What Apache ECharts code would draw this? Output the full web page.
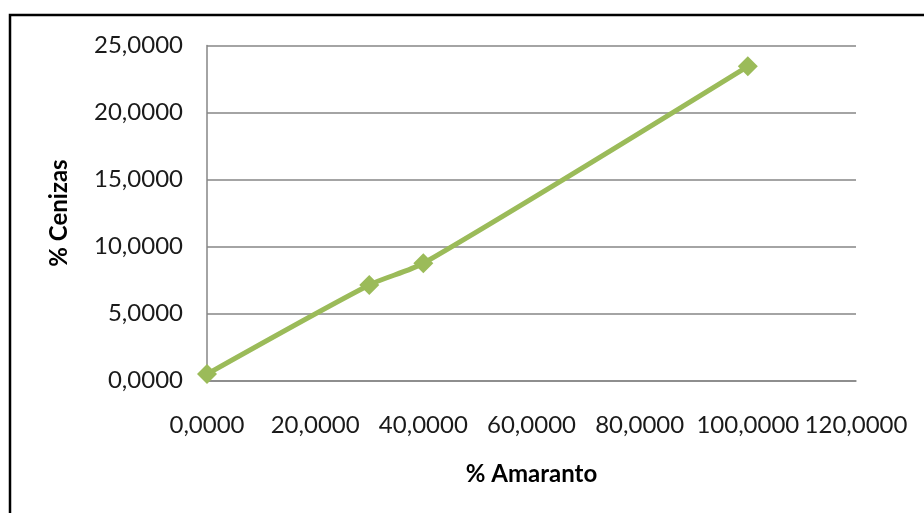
<!DOCTYPE html>
<html>
<head>
<meta charset="utf-8">
<script src="https://cdn.jsdelivr.net/npm/echarts@6/dist/echarts.min.js"></script>
<style>
  html, body { margin: 0; padding: 0; background: #ffffff; }
  #chart { width: 924px; height: 513px; }
</style>
</head>
<body>
<div id="chart"></div>
<script>
// Ash content (% Cenizas) against amaranth share (% Amaranto)
const amaranto = [0, 30, 40, 100];
const cenizas = [0.48, 7.13, 8.75, 23.45];
const xTicks = [0, 20, 40, 60, 80, 100, 120];
const yTicks = [0, 5, 10, 15, 20, 25];

const fmt = v => v.toFixed(4).replace('.', ',');
const FONT = 'Lato';

const chart = echarts.init(document.getElementById('chart'), null, { renderer: 'canvas' });

chart.setOption({
  backgroundColor: '#ffffff',
  animation: false,
  graphic: [{
    type: 'rect',
    shape: { x: 10, y: 15, width: 1200, height: 1200 },
    style: { fill: 'none', stroke: '#000000', lineWidth: 2.5 },
    silent: true,
    z: 100
  }],
  grid: { left: 207, right: 68, top: 45.5, bottom: 132.5, containLabel: false },
  xAxis: {
    type: 'value',
    min: xTicks[0],
    max: xTicks[xTicks.length - 1],
    interval: xTicks[1] - xTicks[0],
    name: '% Amaranto',
    nameLocation: 'middle',
    nameGap: 82,
    nameTextStyle: { fontFamily: FONT, fontSize: 24, fontWeight: 'bold', color: '#000000' },
    axisLine: { show: true, lineStyle: { color: '#868686', width: 1.5 } },
    axisTick: { show: false },
    splitLine: { show: false },
    axisLabel: {
      formatter: v => fmt(v),
      fontFamily: FONT, fontSize: 24, color: '#1a1a1a', margin: 33
    }
  },
  yAxis: {
    type: 'value',
    min: yTicks[0],
    max: yTicks[yTicks.length - 1],
    interval: yTicks[1] - yTicks[0],
    name: '% Cenizas',
    nameLocation: 'middle',
    nameGap: 136,
    nameTextStyle: { fontFamily: FONT, fontSize: 24, fontWeight: 'bold', color: '#000000' },
    axisLine: { show: true, lineStyle: { color: '#868686', width: 1.5 } },
    axisTick: { show: false },
    splitLine: { show: true, lineStyle: { color: '#868686', width: 1.5 } },
    axisLabel: {
      formatter: v => fmt(v),
      fontFamily: FONT, fontSize: 24, color: '#1a1a1a', margin: 24
    }
  },
  series: [{
    type: 'line',
    data: amaranto.map((x, i) => [x, cenizas[i]]),
    smooth: 0.25,
    symbol: 'diamond',
    symbolSize: 20,
    showAllSymbol: true,
    lineStyle: { color: '#9BBB59', width: 5 },
    itemStyle: { color: '#9BBB59' }
  }]
});
</script>
</body>
</html>
